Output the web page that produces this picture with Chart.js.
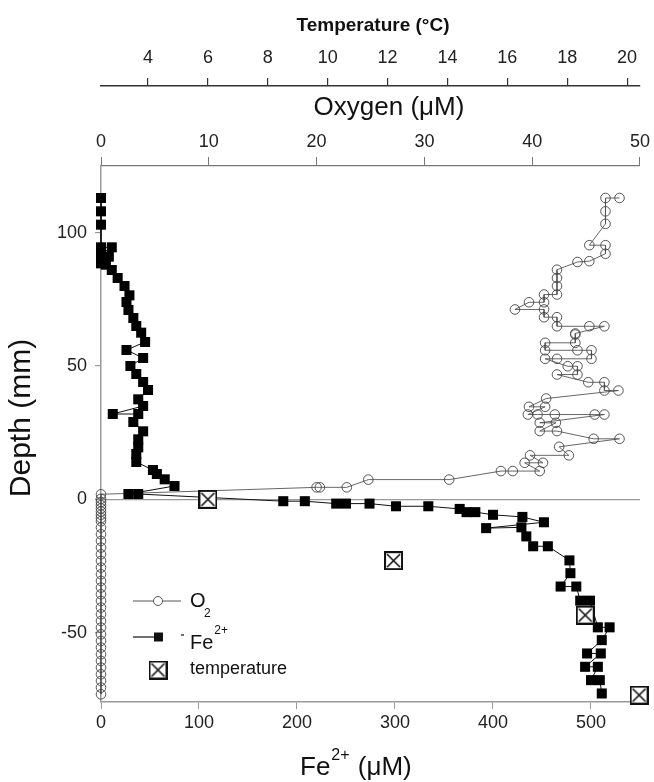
<!DOCTYPE html>
<html>
<head>
<meta charset="utf-8">
<script src="https://cdn.jsdelivr.net/npm/chart.js@4/dist/chart.umd.min.js"></script>
<style>
html,body{margin:0;padding:0;background:#fff;}
#c{display:block;}
</style>
</head>
<body>
<canvas id="c" width="654" height="782"></canvas>
<script>
// ---------- data ----------
const feDepth = [113,108,103,94.5,94.5,92,91,88.5,88,86,83,80,76.5,74,71,68,65,62.5,59,56,53,50,47,44,41,37.5,35,32,32,29,25.5,22.5,19.5,17,14,11,9.5,7.5,5,2,2,-0.7,-0.7,-1.6,-1.6,-1.6,-2.6,-2.6,-3.6,-4.8,-4.8,-5.8,-6.6,-8.6,-10.8,-10.5,-13.9,-17.6,-17.6,-22.9,-27.7,-32.7,-32.7,-38,-38,-48,-48,-52.8,-57.8,-57.8,-62.8,-62.8,-67.8,-67.8,-72.8];
const feValue = [0,0,0,0,11,0,8,0,5,11,17,24,29,26,28,33,36,41,45,26,43,30,36,43,48,38,43,12,38,33,43,38,38,36,36,53,57,65,75,28,38,186,208,240,250,274,301,334,366,373,382,400,430,452,393,429,434,441,456,478,479,469,485,489,499,507,519,511,496,510,494,507,500,509,511];

const o2Depth = [113,113,108,103.3,95.3,95.3,92.1,89.3,89,86.1,83,80,76.8,76.8,73.9,73.9,71.2,71.2,68.3,68.3,64.9,64.9,64.9,62.2,61.8,58.7,58.7,55.9,55.9,55.9,52.7,52.7,52.7,49.9,49.9,46.8,46.8,43.9,43.9,40.8,40.8,37.8,34.7,34.7,31.8,31.8,31.8,31.8,31.8,28.7,28.7,25.6,25.6,22.7,22.7,19.7,16.5,16.5,13.7,13.7,10.6,10.6,10.6,7.4,7.4,4.5,4.5,4.5,1.9,0.2,-1,-2.2,-3.4,-4.6,-5.8,-7,-8.2,-10.6,-13.1,-15.6,-18.1,-20.6,-23.1,-25.6,-28.1,-30.6,-33.1,-35.6,-38.1,-40.6,-43.1,-45.6,-48.1,-50.6,-53.1,-55.6,-58.1,-60.6,-63.1,-65.6,-68.1,-70.6,-73.1];
const o2Value = [48.1,46.8,46.8,46.8,45.3,46.8,46.8,45.3,44.2,42.3,42.3,42.3,42.3,41.1,41.1,39.7,38.4,41.1,41.1,42.3,42.3,45.3,46.7,44,44,44,41.2,41.2,44.2,45.5,45.5,42.3,41.2,43.3,44.2,44.2,42.3,45.2,46.7,46.7,48,41.3,39.7,41.2,39.6,40.5,42.1,45.8,46.7,40.7,42.2,40.7,42.3,45.7,48.1,42.5,43.4,39.8,41,39.3,40.7,38.2,37.1,32.3,24.8,22.8,20.3,20,0,0,0,0,0,0,0,0,0,0,0,0,0,0,0,0,0,0,0,0,0,0,0,0,0,0,0,0,0,0,0,0,0,0,0];

const tempDepth = [0,-23,-43.4,-73.4];
const tempValue = [6.0,12.2,18.6,20.4];

const feTicks = [0,100,200,300,400,500];
const o2Ticks = [0,10,20,30,40,50];
const tempTicks = [4,6,8,10,12,14,16,18,20];
const depthTicks = [-50,0,50,100];

// ---------- styles ----------
const FONT = '"Liberation Sans", Arial, Helvetica, sans-serif';

function makeTempMarker(size){
  const c = document.createElement('canvas');
  c.width = size; c.height = size;
  const g = c.getContext('2d');
  g.fillStyle = '#fff'; g.fillRect(0,0,size,size);
  g.strokeStyle = '#111'; g.lineWidth = 2;
  g.strokeRect(1,1,size-2,size-2);
  g.lineWidth = 1.6;
  g.beginPath();
  g.moveTo(3,3); g.lineTo(size-3,size-3);
  g.moveTo(size-3,3); g.lineTo(3,size-3);
  g.stroke();
  return c;
}
const tempMarker = makeTempMarker(19);

const pts = (ys, xs) => xs.map((v,i)=>({x:v, y:ys[i]}));

const titlesPlugin = {
  id:'titles',
  afterDraw(chart){
    const ctx = chart.ctx;
    ctx.save();
    ctx.fillStyle = '#111';
    ctx.textBaseline = 'middle';
    // Temperature title
    ctx.textAlign = 'center';
    ctx.font = 'bold 19px ' + FONT;
    ctx.fillText('Temperature (°C)', 373, 26);
    // Oxygen title
    ctx.font = '26px ' + FONT;
    ctx.fillText('Oxygen (\u03BCM)', 389, 108);
    // Fe title with superscript
    ctx.textAlign = 'left';
    let x = 300, y = 768;
    ctx.font = '26px ' + FONT;
    ctx.fillText('Fe', x, y); x += ctx.measureText('Fe').width + 1;
    ctx.font = '16px ' + FONT;
    ctx.fillText('2+', x, y - 12); x += ctx.measureText('2+').width + 1;
    ctx.font = '26px ' + FONT;
    ctx.fillText(' (\u03BCM)', x, y);
    // Depth title
    ctx.save();
    ctx.translate(22, 418);
    ctx.rotate(-Math.PI/2);
    ctx.textAlign = 'center';
    ctx.font = '30px ' + FONT;
    ctx.fillText('Depth (mm)', 0, 0);
    ctx.restore();

    // Legend
    // O2
    ctx.strokeStyle = '#555'; ctx.lineWidth = 1;
    ctx.beginPath(); ctx.moveTo(133,601); ctx.lineTo(181,601); ctx.stroke();
    ctx.fillStyle = '#fff';
    ctx.beginPath(); ctx.arc(158,601,4.5,0,Math.PI*2); ctx.fill(); ctx.stroke();
    ctx.fillStyle = '#111';
    ctx.font = '20px ' + FONT;
    ctx.fillText('O', 190, 601);
    ctx.font = '12px ' + FONT;
    ctx.fillText('2', 204, 614);
    // Fe
    ctx.strokeStyle = '#111'; ctx.lineWidth = 1.2;
    ctx.beginPath(); ctx.moveTo(133,637); ctx.lineTo(158,637); ctx.stroke();
    ctx.fillRect(154,632.5,9,9);
    ctx.beginPath(); ctx.moveTo(181,635); ctx.lineTo(184,635); ctx.stroke();
    ctx.font = '20px ' + FONT;
    ctx.fillText('Fe', 190, 643);
    let fw = ctx.measureText('Fe').width;
    ctx.font = '12px ' + FONT;
    ctx.fillText('2+', 190 + fw + 1, 631);
    // temperature
    ctx.drawImage(tempMarker, 158 - 9.5, 670 - 9.5);
    ctx.font = '18px ' + FONT;
    ctx.fillText('temperature', 190, 669);
    ctx.restore();
  }
};

const setTicks = arr => s => { s.ticks = arr.map(v => ({value: v})); };

new Chart(document.getElementById('c'), {
  type: 'scatter',
  data: {
    datasets: [
      {
        label: 'O2',
        data: pts(o2Depth, o2Value),
        xAxisID: 'xO2', yAxisID: 'y',
        showLine: true,
        borderColor: '#555', borderWidth: 0.9,
        pointStyle: 'circle', pointRadius: 4.8,
        pointBorderColor: '#444', pointBorderWidth: 0.9,
        pointBackgroundColor: 'rgba(255,255,255,0)',
        clip: false, order: 2
      },
      {
        label: 'Fe2+',
        data: pts(feDepth, feValue),
        xAxisID: 'x', yAxisID: 'y',
        showLine: true,
        borderColor: '#111', borderWidth: 1,
        pointStyle: 'rect', pointRadius: 7.1,
        pointBorderWidth: 0,
        pointBackgroundColor: '#000', pointBorderColor: '#000',
        clip: false, order: 1
      },
      {
        label: 'temperature',
        data: pts(tempDepth, tempValue),
        xAxisID: 'xT', yAxisID: 'y',
        showLine: false,
        pointStyle: tempMarker, pointRadius: 9.5,
        clip: false, order: 0
      }
    ]
  },
  options: {
    responsive: false,
    animation: false,
    events: [],
    layout: {padding: {left: 0, right: 12, top: 0, bottom: 0}},
    plugins: {legend: {display: false}, tooltip: {enabled: false}},
    scales: {
      x: {
        type: 'linear', position: 'bottom', min: 0, max: 550,
        afterBuildTicks: setTicks(feTicks),
        afterFit: s => { s.height = 80; },
        grid: {drawOnChartArea: false, tickLength: 7, color: '#999', lineWidth: 1},
        border: {color: '#999', width: 1.5},
        ticks: {font: {size: 18, family: FONT}, color: '#222', padding: 3, maxRotation: 0}
      },
      xO2: {
        type: 'linear', position: 'top', min: 0, max: 50, weight: 0,
        afterBuildTicks: setTicks(o2Ticks),
        afterFit: s => { s.height = 80; },
        grid: {drawOnChartArea: false, tickLength: 9, color: '#777', lineWidth: 1},
        border: {color: '#777', width: 1.2},
        ticks: {font: {size: 18, family: FONT}, color: '#222', padding: 4, maxRotation: 0}
      },
      xT: {
        type: 'linear', position: 'top', min: 2.43, max: 20.43, weight: 1,
        afterBuildTicks: setTicks(tempTicks),
        afterFit: s => { s.height = 86; },
        grid: {drawOnChartArea: false, tickLength: 8, color: '#333', lineWidth: 1.2},
        border: {color: '#333', width: 1.5},
        ticks: {font: {size: 18, family: FONT}, color: '#222', padding: 9, maxRotation: 0}
      },
      y: {
        type: 'linear', position: 'left', min: -76, max: 125,
        afterBuildTicks: setTicks(depthTicks),
        afterFit: s => { s.width = 101; },
        grid: {
          drawOnChartArea: true, tickLength: 6,
          color: c => (c.tick && c.tick.value === 0) ? '#999' : 'rgba(0,0,0,0)',
          tickColor: '#999', lineWidth: 1.2
        },
        border: {color: '#999', width: 1.5},
        ticks: {font: {size: 18, family: FONT}, color: '#222', padding: 8}
      }
    }
  },
  plugins: [titlesPlugin]
});
</script>
</body>
</html>
